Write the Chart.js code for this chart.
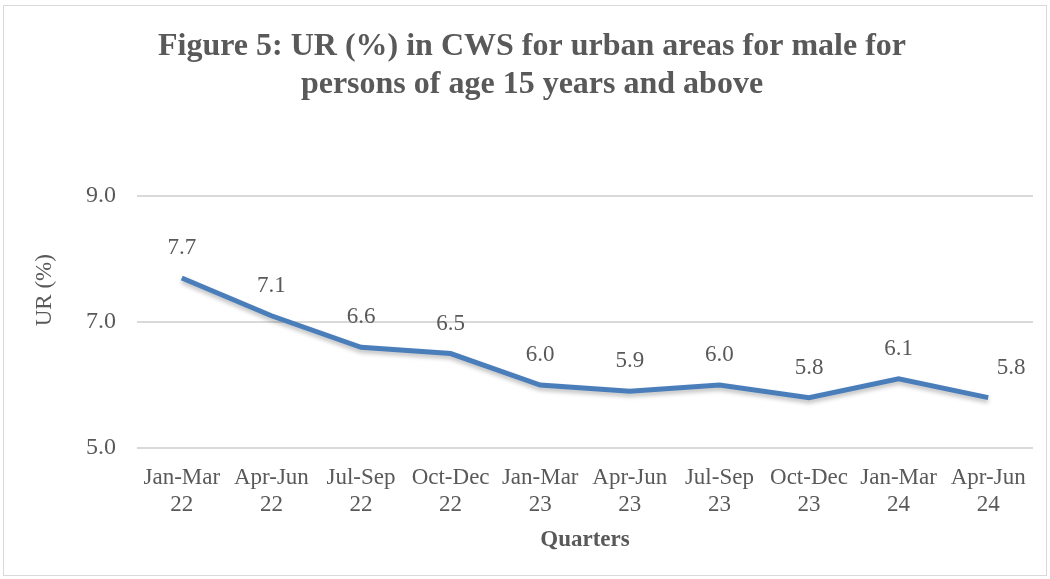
<!DOCTYPE html>
<html>
<head>
<meta charset="utf-8">
<script src="https://cdn.jsdelivr.net/npm/chart.js@4"></script>
<style>
  html, body { margin: 0; padding: 0; background: #fff; }
  #wrap { position: relative; width: 1050px; height: 579px; }
  #frame { position: absolute; left: 3px; top: 5px; width: 1042px; height: 569px;
           border: 1px solid #d9d9d9; pointer-events: none; }
</style>
</head>
<body>
<div id="wrap">
  <canvas id="myChart" width="1050" height="579"></canvas>
  <div id="frame"></div>
</div>
<script>
var quarters = [["Jan-Mar","22"],["Apr-Jun","22"],["Jul-Sep","22"],["Oct-Dec","22"],["Jan-Mar","23"],
                ["Apr-Jun","23"],["Jul-Sep","23"],["Oct-Dec","23"],["Jan-Mar","24"],["Apr-Jun","24"]];
var urValues = [7.7, 7.1, 6.6, 6.5, 6.0, 5.9, 6.0, 5.8, 6.1, 5.8];
var yTicks = [5.0, 7.0, 9.0];

var textColor = "#595959";
var serif = "'Liberation Serif', 'Times New Roman', serif";

// data labels above each point, the last one nudged right like the original
var pointLabels = {
  id: "pointLabels",
  afterDatasetsDraw: function(chart) {
    var ctx = chart.ctx;
    var meta = chart.getDatasetMeta(0);
    ctx.save();
    ctx.font = "23px " + serif;
    ctx.fillStyle = textColor;
    ctx.textAlign = "center";
    ctx.textBaseline = "middle";
    meta.data.forEach(function(pt, i) {
      var dx = (i === meta.data.length - 1) ? 23 : 0;
      ctx.fillText(urValues[i].toFixed(1), pt.x + dx, pt.y - 30);
    });
    ctx.restore();
  }
};

// axis titles drawn by hand (the y one sits above centre in the original)
var axisTitles = {
  id: "axisTitles",
  afterDraw: function(chart) {
    var ctx = chart.ctx;
    var area = chart.chartArea;
    ctx.save();
    ctx.fillStyle = textColor;
    ctx.textAlign = "center";
    ctx.textBaseline = "middle";
    ctx.font = "bold 23px " + serif;
    ctx.fillText("Quarters", (area.left + area.right) / 2, area.bottom + 92);
    ctx.translate(45, area.top + 94);
    ctx.rotate(-Math.PI / 2);
    ctx.font = "23px " + serif;
    ctx.fillText("UR (%)", 0, 0);
    ctx.restore();
  }
};

// soft shadow under the line
var lineShadow = {
  id: "lineShadow",
  beforeDatasetDraw: function(chart) {
    var ctx = chart.ctx;
    ctx.save();
    ctx.shadowColor = "rgba(0,0,0,0.25)";
    ctx.shadowBlur = 4;
    ctx.shadowOffsetY = 3;
  },
  afterDatasetDraw: function(chart) {
    chart.ctx.restore();
  }
};

new Chart("myChart", {
  type: "line",
  data: {
    labels: quarters,
    datasets: [{
      data: urValues,
      borderColor: "#4a7ebb",
      borderWidth: 5,
      pointRadius: 0,
      tension: 0,
      fill: false
    }]
  },
  options: {
    responsive: false,
    animation: false,
    layout: { padding: { left: 31, right: 17, top: 28, bottom: 0 } },
    plugins: {
      legend: { display: false },
      tooltip: { enabled: false },
      title: {
        display: true,
        text: ["Figure 5: UR (%) in CWS for urban areas for male for", "persons of age 15 years and above"],
        color: textColor,
        font: { family: serif, size: 32, weight: "bold", lineHeight: 1.19 },
        padding: { top: 0, bottom: 92 }
      }
    },
    scales: {
      x: {
        offset: true,
        afterFit: function(axis) { axis.height = 131; },
        grid: { display: false, drawTicks: false },
        border: { display: false },
        ticks: {
          color: textColor,
          font: { family: serif, size: 23, lineHeight: 1.2 },
          maxRotation: 0,
          autoSkip: false,
          padding: 16
        }
      },
      y: {
        min: 5,
        max: 9,
        afterFit: function(axis) { axis.width = 106; },
        afterBuildTicks: function(axis) {
          axis.ticks = yTicks.map(function(v) { return { value: v }; });
        },
        grid: { color: "#d9d9d9", lineWidth: 2, drawTicks: false },
        border: { display: false },
        ticks: {
          color: textColor,
          font: { family: serif, size: 24 },
          padding: 21,
          callback: function(v) { return Number(v).toFixed(1); }
        }
      }
    }
  },
  plugins: [pointLabels, axisTitles, lineShadow]
});
</script>
</body>
</html>
